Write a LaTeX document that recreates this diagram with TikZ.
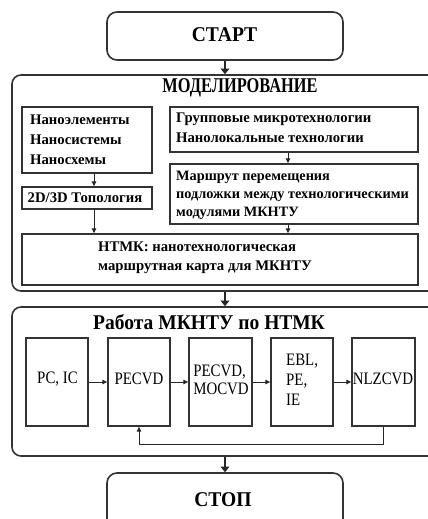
\documentclass[tikz,border=0pt]{standalone}
\usepackage{fontspec}
\setmainfont{Liberation Serif}
\newfontfamily\condfont{Liberation Serif}[FakeStretch=0.85]
\newfontfamily\headfont{Liberation Serif}[FakeStretch=0.93]
\newfontfamily\narrowheadfont{Liberation Serif}[FakeStretch=0.78]
\usetikzlibrary{arrows.meta}

\tikzset{
  frame/.style={draw=black!80, line width=1.6pt, rounded corners=9pt, inner sep=0pt},
  box/.style={draw=black!80, line width=1.4pt, inner sep=0pt},
  ttl/.style={font=\headfont\bfseries\fontsize{21}{24}\selectfont, inner sep=0pt},
  txt/.style={font=\bfseries\fontsize{14.7}{20}\selectfont, align=left, inner sep=0pt, anchor=west},
  mod/.style={font=\condfont\fontsize{17.5}{19}\selectfont, align=left, inner sep=0pt},
  flow/.style={draw=black!85, line width=2.6pt, -{Triangle[length=5.5pt,width=8.5pt]}},
  link/.style={draw=black!85, line width=1pt, -{Triangle[length=5pt,width=4.5pt]}}
}

\begin{document}
\begin{tikzpicture}[x=1pt,y=-1pt]
\useasboundingbox (0,0) rectangle (428,519);
\clip (0,0) rectangle (428,519);

% start / stop terminals
\node[frame, minimum width=236pt, minimum height=48pt, rounded corners=10pt] (start) at (225,36) {};
\node[ttl] (starttxt) at (224.5,35) {СТАРТ};

% modelling stage
\node[frame, minimum width=426pt, minimum height=216pt] (model) at (225,183) {};
\node[ttl, font=\narrowheadfont\bfseries\fontsize{21}{24}\selectfont] (modeltxt) at (240,88) {МОДЕЛИРОВАНИЕ};

\node[box, minimum width=130pt, minimum height=66pt] (elem) at (87,140) {};
\node[txt] (elemtxt) at (30,140) {Наноэлементы\\Наносистемы\\Наносхемы};

\node[box, minimum width=130pt, minimum height=22pt] (topo) at (87,198) {};
\node[txt, anchor=center] (topotxt) at (85,198) {2D/3D Топология};

\node[box, minimum width=248pt, minimum height=45pt] (grp) at (294,129.5) {};
\node[txt] (grptxt) at (176,128) {Групповые микротехнологии\\Нанолокальные технологии};

\node[box, minimum width=248pt, minimum height=60pt] (route) at (294,194) {};
\node[txt, font=\bfseries\fontsize{14.3}{18}\selectfont] (routetxt) at (176,195)
  {Маршрут перемещения\\подложки между технологическими\\модулями МКНТУ};

\node[box, minimum width=396pt, minimum height=51pt] (ntmk) at (220,259.5) {};
\node[txt, font=\bfseries\fontsize{14.7}{19}\selectfont] (ntmktxt) at (98,258)
  {НТМК: нанотехнологическая\\маршрутная карта для МКНТУ};

\draw[link] ([xshift=7pt]elem.south) -- ([xshift=7pt]topo.north);
\draw[link] ([xshift=7pt]topo.south) -- ([xshift=7pt]topo.south |- ntmk.north);
\draw[link] ([xshift=-6pt]grp.south) -- ([xshift=-6pt]route.north);
\draw[link] ([xshift=-6pt]route.south) -- ([xshift=-6pt]route.south |- ntmk.north);

% module operation stage
\node[frame, minimum width=426pt, minimum height=149pt] (work) at (225,381.5) {};
\node[ttl] (worktxt) at (209,322) {Работа МКНТУ по НТМК};

\node[box, minimum width=62pt, minimum height=88pt] (b1) at (57,382) {};
\node[box, minimum width=62pt, minimum height=88pt] (b2) at (139,382) {};
\node[box, minimum width=63pt, minimum height=88pt] (b3) at (220.5,382) {};
\node[box, minimum width=62pt, minimum height=88pt] (b4) at (302,382) {};
\node[box, minimum width=63pt, minimum height=88pt] (b5) at (383.5,382) {};

\node[mod] (t1) at (57.5,379) {PC, IC};
\node[mod] (t2) at (139,379) {PECVD};
\node[mod, font=\condfont\fontsize{17.5}{18}\selectfont] (t3) at (221,380) {PECVD,\\MOCVD};
\node[mod, anchor=west, font=\condfont\fontsize{17.5}{20}\selectfont] (t4) at (286,380) {EBL,\\PE,\\IE};
\node[mod] (t5) at (383,379) {NLZCVD};

\draw[link] (b1) -- (b2);
\draw[link] (b2) -- (b3);
\draw[link] (b3) -- (b4);
\draw[link] (b4) -- (b5);
\draw[link] (b5.south) -- ++(0,18) -| (b2.south);

% end terminal
\node[frame, minimum width=236pt, minimum height=67pt, rounded corners=10pt] (stop) at (225,506.5) {};
\node[ttl] (stoptxt) at (223,500) {СТОП};

% stage transitions
\draw[flow] (start.south) -- (start.south |- model.north);
\draw[flow] (model.south) -- (model.south |- work.north);
\draw[flow] (work.south) -- (work.south |- stop.north);
\end{tikzpicture}
\end{document}
